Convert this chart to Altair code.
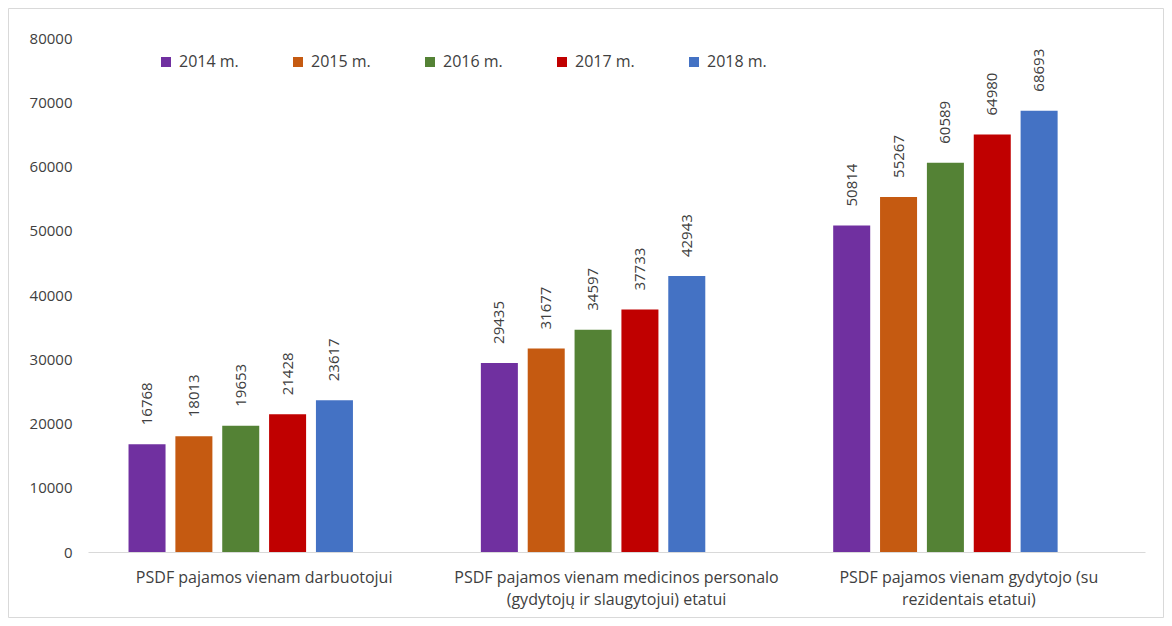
import altair as alt
import pandas as pd

categories = [
    "PSDF pajamos vienam darbuotojui",
    "PSDF pajamos vienam medicinos personalo\n(gydytojų ir slaugytojui) etatui",
    "PSDF pajamos vienam gydytojo (su\nrezidentais etatui)",
]
years = ["2014 m.", "2015 m.", "2016 m.", "2017 m.", "2018 m."]
v2014 = [16768, 29435, 50814]
v2015 = [18013, 31677, 55267]
v2016 = [19653, 34597, 60589]
v2017 = [21428, 37733, 64980]
v2018 = [23617, 42943, 68693]
colors = ["#7030A0", "#C55A11", "#548235", "#C00000", "#4472C4"]
y_ticks = [0, 10000, 20000, 30000, 40000, 50000, 60000, 70000, 80000]

series = [v2014, v2015, v2016, v2017, v2018]
rows = []
for yr, vals in zip(years, series):
    for cat, v in zip(categories, vals):
        rows.append({"cat": cat, "year": yr, "value": v})
df = pd.DataFrame(rows)

FONT = "Open Sans"
TXT = "#404040"
W, H = 1057, 514

x_enc = alt.X("cat:N", sort=categories,
              scale=alt.Scale(paddingInner=0, paddingOuter=0),
              axis=alt.Axis(title=None, labelAngle=0, ticks=False, grid=False, domainColor="#d9d9d9",
                            labelFont=FONT, labelFontSize=16, labelColor=TXT,
                            labelPadding=17, labelLineHeight=22, labelLimit=400,
                            labelExpr="split(datum.label, '\\n')"))
xo_enc = alt.XOffset("year:N", scale=alt.Scale(domain=years + ["_"], paddingInner=0.21, paddingOuter=0.865))
y_enc = alt.Y("value:Q", scale=alt.Scale(domain=[0, 80000], nice=False),
              axis=alt.Axis(title=None, values=y_ticks, format="d", grid=False, domain=False, ticks=False,
                            labelFont=FONT, labelFontSize=15, labelColor=TXT, labelPadding=16))

bars = alt.Chart(df).mark_bar().encode(
    x=x_enc, xOffset=xo_enc, y=y_enc,
    color=alt.Color("year:N", scale=alt.Scale(domain=years, range=colors),
                    legend=alt.Legend(title=None, orient="none", legendX=70, legendY=16,
                                      direction="horizontal", columns=5, symbolType="square",
                                      symbolSize=100, symbolStrokeWidth=0, labelFont=FONT,
                                      labelFontSize=16, labelColor=TXT, columnPadding=51,
                                      labelOffset=5, padding=0)),
)

labels = alt.Chart(df).mark_text(angle=270, align="left", baseline="middle", dx=19,
                                 font=FONT, fontSize=15, color=TXT).encode(
    x=alt.X("cat:N", sort=categories), xOffset=alt.XOffset("year:N"), y="value:Q",
    text=alt.Text("value:Q", format="d"),
)

fd = pd.DataFrame({"a": [0]})
frame_col = "#d9d9d9"
top = alt.Chart(fd).mark_rule(color=frame_col, strokeWidth=1).encode(
    x=alt.value(-79.5), x2=alt.value(W + 18.5), y=alt.value(-29.5))
bottom = alt.Chart(fd).mark_rule(color=frame_col, strokeWidth=1).encode(
    x=alt.value(-79.5), x2=alt.value(W + 18.5), y=alt.value(H + 65.5))
left = alt.Chart(fd).mark_rule(color=frame_col, strokeWidth=1).encode(
    x=alt.value(-79.5), y=alt.value(-29.5), y2=alt.value(H + 65.5))
right = alt.Chart(fd).mark_rule(color=frame_col, strokeWidth=1).encode(
    x=alt.value(W + 18.5), y=alt.value(-29.5), y2=alt.value(H + 65.5))

chart = alt.layer(bars, labels, top, bottom, left, right).properties(
    width=W, height=H,
    background="white",
    autosize=alt.AutoSizeParams(type="none"),
    padding={"left": 80, "top": 30, "right": 19, "bottom": 66},
).configure_view(stroke="transparent", strokeWidth=0)

chart.save("out.html", embed_options={"renderer": "svg", "actions": False})
